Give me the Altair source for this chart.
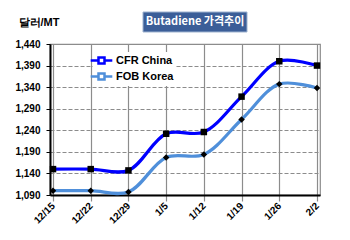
import altair as alt
import pandas as pd

dates = ["12/15", "12/22", "12/29", "1/5", "1/12", "1/19", "1/26", "2/2"]
cfr_china = [1150, 1150, 1147, 1232, 1236, 1318, 1400, 1390]
fob_korea = [1100, 1100, 1097, 1177, 1184, 1265, 1347, 1338]
series_names = ["CFR China", "FOB Korea"]
series_colors = ["#0000FF", "#4F8FDA"]
y_ticks = [1090, 1140, 1190, 1240, 1290, 1340, 1390, 1440]

rows = []
for d, a, b in zip(dates, cfr_china, fob_korea):
    rows.append({"date": d, "series": "CFR China", "marker": "m_cfr", "value": a})
    rows.append({"date": d, "series": "FOB Korea", "marker": "m_fob", "value": b})
df = pd.DataFrame(rows)

FONT = "Liberation Sans"

x_enc = alt.X("date:N", sort=dates,
              scale=alt.Scale(type="point", padding=0.08),
              axis=alt.Axis(title=None, labelAngle=315, labelAlign="right",
                            labelBaseline="middle", labelPadding=3,
                            labelFont=FONT, labelFontWeight="bold",
                            labelFontSize=10, labelColor="#000",
                            labelOverlap=False,
                            grid=True, gridColor="#8c8c8c", gridWidth=1.2,
                            tickColor="#8c8c8c", tickSize=6, tickWidth=1.2,
                            domainColor="#000", domainWidth=2))
y_enc = alt.Y("value:Q",
              scale=alt.Scale(domain=[1090, 1440], nice=False, zero=False),
              axis=alt.Axis(values=y_ticks, tickCount=8, format=",d", title="달러/MT",
                            titleAngle=0, titleAlign="left", titleX=-32,
                            titleY=-17, titleFont=FONT, titleFontSize=11,
                            titleFontWeight="bold", titleColor="#000",
                            labelFont=FONT, labelFontWeight="bold",
                            labelFontSize=10, labelColor="#000",
                            labelPadding=6, labelOverlap=False, labelFlush=False,
                            grid=True, gridColor="#8c8c8c", gridDash=[4, 2],
                            gridWidth=1.2,
                            tickColor="#000", tickSize=4,
                            domainColor="#000", domainWidth=2))

lines = alt.Chart(df).mark_line(interpolate="catmull-rom", strokeWidth=3.2).encode(
    x=x_enc, y=y_enc,
    color=alt.Color("series:N",
                    scale=alt.Scale(domain=series_names, range=series_colors),
                    legend=alt.Legend(title=None, orient="none", legendX=43,
                                      legendY=8, fillColor="white",
                                      symbolType="M-1.8,0H-0.5M0.5,0H1.8M-0.5,-0.5H0.5V0.5H-0.5Z",
                                      symbolSize=144, symbolStrokeWidth=2.5,
                                      symbolFillColor="white",
                                      labelFont=FONT, labelFontWeight="bold",
                                      labelFontSize=11, labelColor="#000",
                                      labelOffset=7, rowPadding=-3,
                                      padding=1)),
)

points = alt.Chart(df).mark_point(filled=True, color="#000", size=42, opacity=1).encode(
    x=x_enc,
    y=y_enc,
    shape=alt.Shape("marker:N",
                    scale=alt.Scale(domain=["m_cfr", "m_fob"], range=["square", "diamond"]),
                    legend=None),
)

title_df = pd.DataFrame({"t": ["Butadiene 가격추이"]})
title_box = alt.Chart(title_df).mark_rect(fill="#3B5E98", stroke="#9fb3d0",
                                           strokeWidth=1).encode(
    x=alt.value(93), x2=alt.value(197), y=alt.value(-32), y2=alt.value(-12))
title_text = alt.Chart(title_df).mark_text(color="white", fontWeight="bold",
                                           fontSize=11, font="Noto Sans CJK KR",
                                           baseline="middle", align="center").encode(
    x=alt.value(145), y=alt.value(-22), text="t:N")

chart = alt.layer(lines, points, title_box, title_text).properties(
    width=270, height=151,
    autosize="none",
    padding={"left": 50, "top": 44, "right": 30, "bottom": 45},
    background="white",
).resolve_legend(color="independent", shape="independent").configure_view(
    stroke="#8c8c8c", strokeWidth=1.2)

chart.save("out.html", embed_options={"renderer": "svg", "actions": False})
